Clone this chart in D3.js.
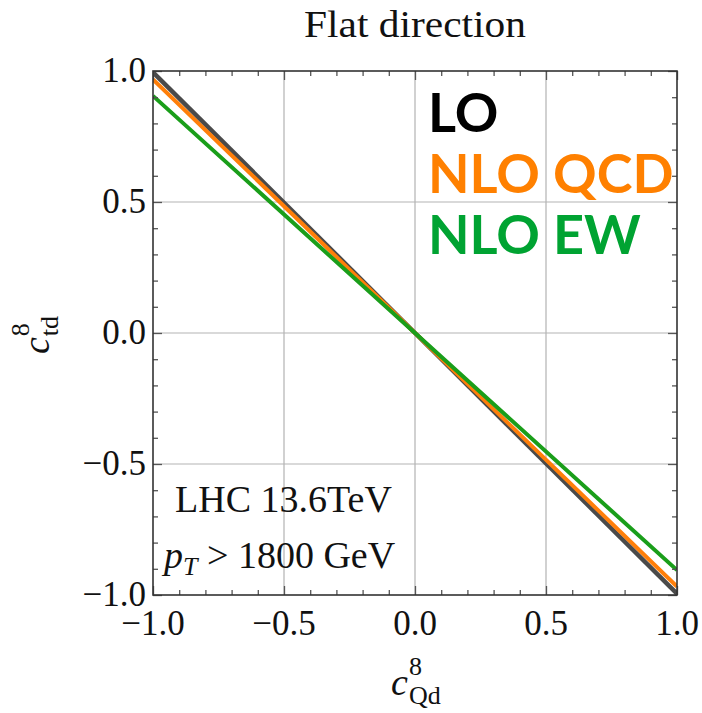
<!DOCTYPE html>
<html>
<head>
<meta charset="utf-8">
<script src="https://cdn.jsdelivr.net/npm/d3@7"></script>
<style>
  body { margin: 0; background: #fff; }
  svg { display: block; }
  .tick-label { font-family: "Liberation Serif", serif; font-size: 35px; fill: #111; }
  .legend-item { font-family: Lato, "DejaVu Sans", sans-serif; font-weight: bold; }
</style>
</head>
<body>
<div id="chart"></div>
<script>
// data: each line passes through the origin
const xPoints = [-1, 0, 1];
const loValues = [0.995, 0, -0.995];
const qcdValues = [0.968, 0, -0.968];
const ewValues = [0.905, 0, -0.905];

const majorTicks = [-1, -0.5, 0, 0.5, 1];
const gridValues = [-0.5, 0, 0.5];
const legendLabels = ["LO", "NLO QCD", "NLO EW"];

const width = 702;
const height = 713;
const margin = { top: 71, right: 25, bottom: 118, left: 153 };

const svg = d3
  .select("#chart")
  .append("svg")
  .attr("width", width)
  .attr("height", height);

const x = d3
  .scaleLinear()
  .domain([-1, 1])
  .range([margin.left, width - margin.right]);
const y = d3
  .scaleLinear()
  .domain([-1, 1])
  .range([height - margin.bottom, margin.top]);

const fmt = d3.format(".1f");
const minorTicks = d3.range(-10, 11).map((d) => d / 10);

// grid
const grid = svg.append("g").attr("class", "grid");
grid
  .selectAll("line.gx")
  .data(gridValues)
  .join("line")
  .attr("class", "gx")
  .attr("x1", (d) => x(d))
  .attr("x2", (d) => x(d))
  .attr("y1", y(-1))
  .attr("y2", y(1))
  .attr("stroke", "#b3b3b3")
  .attr("stroke-width", 1.2);
grid
  .selectAll("line.gy")
  .data(gridValues)
  .join("line")
  .attr("class", "gy")
  .attr("y1", (d) => y(d))
  .attr("y2", (d) => y(d))
  .attr("x1", x(-1))
  .attr("x2", x(1))
  .attr("stroke", "#b3b3b3")
  .attr("stroke-width", 1.2);

// series lines
const series = [
  { key: "LO", values: loValues, color: "#4a4a4a", width: 4.5 },
  { key: "NLO QCD", values: qcdValues, color: "#ff7f0a", width: 4 },
  { key: "NLO EW", values: ewValues, color: "#1a9e1a", width: 4 },
];

const line = d3
  .line()
  .x((d) => x(d[0]))
  .y((d) => y(d[1]));

const clipId = "plot-clip";
svg
  .append("clipPath")
  .attr("id", clipId)
  .append("rect")
  .attr("x", x(-1))
  .attr("y", y(1))
  .attr("width", x(1) - x(-1))
  .attr("height", y(-1) - y(1));

svg
  .append("g")
  .attr("clip-path", `url(#${clipId})`)
  .selectAll("path")
  .data(series)
  .join("path")
  .attr("d", (s) => line(xPoints.map((xv, i) => [xv, s.values[i]])))
  .attr("fill", "none")
  .attr("stroke", (s) => s.color)
  .attr("stroke-width", (s) => s.width);

// frame ticks (inside, on all four sides)
function addAxis(axisFn, scale, transform, values, size) {
  const g = svg
    .append("g")
    .attr("transform", transform)
    .call(
      axisFn(scale)
        .tickValues(values)
        .tickSizeInner(size)
        .tickSizeOuter(0)
        .tickFormat("")
    );
  g.select(".domain").remove();
  g.selectAll("line").attr("stroke", "#555").attr("stroke-width", 1.3);
  return g;
}

const minorOnly = minorTicks.filter((d) => !majorTicks.includes(d));
addAxis(d3.axisBottom, x, `translate(0,${y(-1)})`, minorOnly, -5);
addAxis(d3.axisBottom, x, `translate(0,${y(-1)})`, majorTicks, -9);
addAxis(d3.axisTop, x, `translate(0,${y(1)})`, minorOnly, -5);
addAxis(d3.axisTop, x, `translate(0,${y(1)})`, majorTicks, -9);
addAxis(d3.axisLeft, y, `translate(${x(-1)},0)`, minorOnly, -5);
addAxis(d3.axisLeft, y, `translate(${x(-1)},0)`, majorTicks, -9);
addAxis(d3.axisRight, y, `translate(${x(1)},0)`, minorOnly, -5);
addAxis(d3.axisRight, y, `translate(${x(1)},0)`, majorTicks, -9);

svg
  .append("rect")
  .attr("x", x(-1))
  .attr("y", y(1))
  .attr("width", x(1) - x(-1))
  .attr("height", y(-1) - y(1))
  .attr("fill", "none")
  .attr("stroke", "#333")
  .attr("stroke-width", 1.6);

// tick labels
svg
  .append("g")
  .selectAll("text")
  .data(majorTicks)
  .join("text")
  .attr("class", "tick-label")
  .attr("x", (d) => x(d))
  .attr("y", y(-1) + 40)
  .attr("text-anchor", "middle")
  .text((d) => fmt(d));

svg
  .append("g")
  .selectAll("text")
  .data(majorTicks)
  .join("text")
  .attr("class", "tick-label")
  .attr("x", x(-1) - 7)
  .attr("y", (d) => y(d) + 11)
  .attr("text-anchor", "end")
  .text((d) => fmt(d));

// title
svg
  .append("text")
  .attr("x", (x(-1) + x(1)) / 2)
  .attr("y", 37)
  .attr("text-anchor", "middle")
  .attr("font-family", "Liberation Serif, serif")
  .attr("font-size", 37)
  .attr("textLength", 222)
  .attr("lengthAdjust", "spacingAndGlyphs")
  .attr("fill", "#111")
  .text("Flat direction");

// axis titles: c with sub/superscripts
function coefLabel(g, sub) {
  const t = g
    .append("text")
    .attr("font-family", "Liberation Serif, serif")
    .attr("fill", "#111");
  t.append("tspan").attr("font-size", 38).attr("font-style", "italic").text("c");
  t.append("tspan").attr("font-size", 26).attr("dy", -20).attr("dx", 1).text("8");
  t.append("tspan")
    .attr("font-size", 26)
    .attr("dy", 29)
    .attr("dx", -13)
    .text(sub);
  return t;
}

const xTitle = svg.append("g").attr("transform", `translate(391,695)`);
coefLabel(xTitle, "Qd");

const yTitle = svg
  .append("g")
  .attr("transform", `translate(49,354) rotate(-90)`);
coefLabel(yTitle, "td");

// legend
const legendColors = ["#000", "#ff8000", "#00a332"];
svg
  .append("g")
  .selectAll("text")
  .data(legendLabels)
  .join("text")
  .attr("class", "legend-item")
  .attr("x", 428)
  .attr("y", (d, i) => 132 + i * 61)
  .attr("font-size", 54)
  .attr("fill", (d, i) => legendColors[i])
  .text((d) => d);

// annotation
const note = svg
  .append("g")
  .attr("font-family", "Liberation Serif, serif")
  .attr("font-size", 38)
  .attr("fill", "#111");
note.append("text").attr("x", 175).attr("y", 512).text("LHC 13.6TeV");
const pt = note.append("text").attr("x", 164).attr("y", 568);
pt.append("tspan").attr("font-style", "italic").text("p");
pt.append("tspan")
  .attr("font-style", "italic")
  .attr("font-size", 26)
  .attr("dy", 7)
  .text("T");
pt.append("tspan").attr("dy", -7).text(" > 1800 GeV");
</script>
</body>
</html>
